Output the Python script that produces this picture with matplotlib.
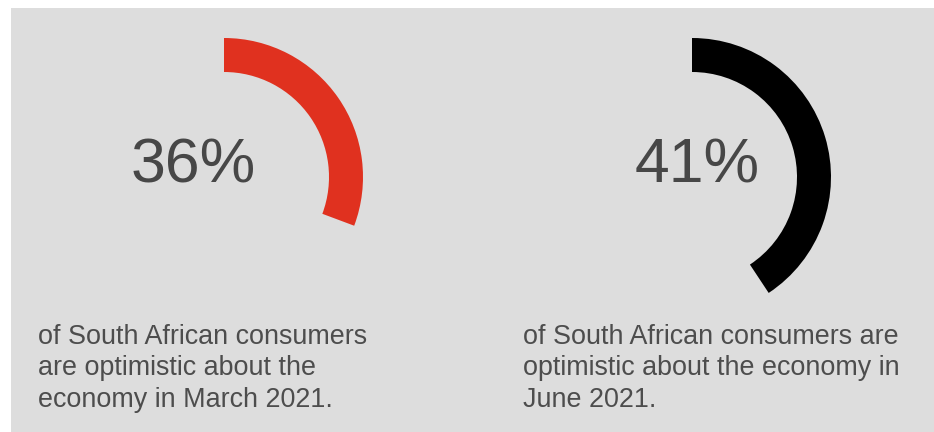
import matplotlib.pyplot as plt
from matplotlib.patches import Wedge, Rectangle

# values shown in the picture
labels = ["36%", "41%"]
arc_pct = [30.7, 40.7]
colors = ["#e0311f", "#000000"]
captions = [
    ["of South African consumers", "are optimistic about the", "economy in March 2021."],
    ["of South African consumers are", "optimistic about the economy in", "June 2021."],
]

W, H = 934, 432
fig = plt.figure(figsize=(W / 100, H / 100), dpi=100)
ax = fig.add_axes([0, 0, 1, 1])
ax.set_xlim(0, W)
ax.set_ylim(0, H)
ax.axis("off")
fig.patch.set_facecolor("white")

# grey panel
ax.add_patch(Rectangle((11, 0), W - 11, H - 8, facecolor="#dddddd", edgecolor="none"))

font = "Liberation Sans"
centers_x = [224, 692]
label_x = [193, 697]
caption_x = [38, 523]
cy = H - 177
r_out, ring_w = 139, 34

for i in range(2):
    frac = arc_pct[i] / 100.0
    ax.add_patch(Wedge((centers_x[i], cy), r_out, 90 - 360 * frac, 90,
                       width=ring_w, facecolor=colors[i], edgecolor="none"))
    ax.text(label_x[i], H - 166, labels[i], fontsize=45, family=font,
            color="#474747", ha="center", va="center")
    for j, line in enumerate(captions[i]):
        ax.text(caption_x[i], H - (344 + 31.3 * j), line, fontsize=19.4,
                family=font, color="#4d4d4d", ha="left", va="baseline")

fig.savefig("out.png", dpi=100, facecolor="white")
